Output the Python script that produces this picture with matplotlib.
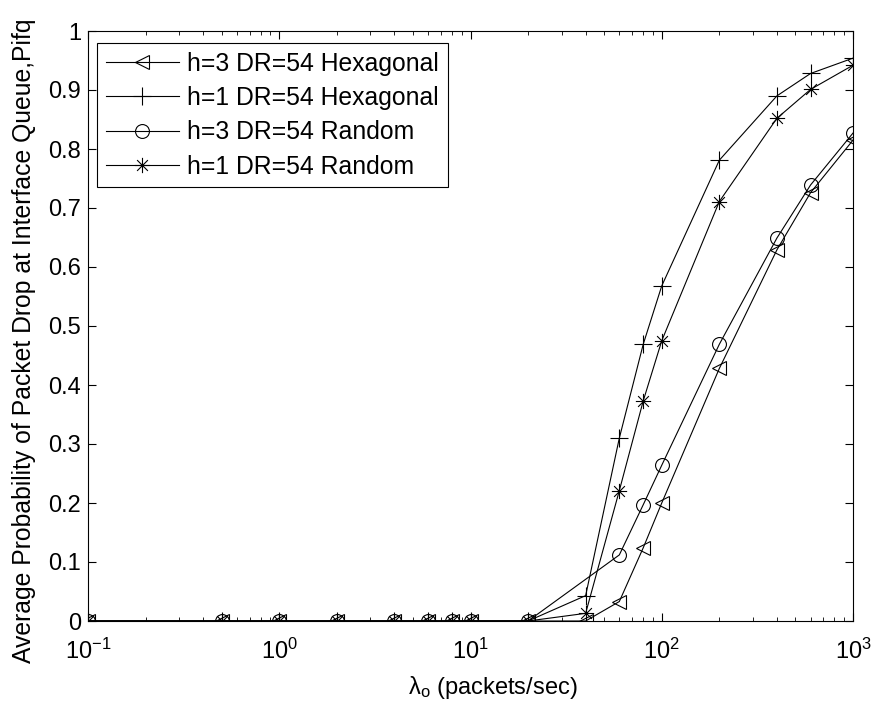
import numpy as np
import matplotlib
matplotlib.use("Agg")
import matplotlib.pyplot as plt
from matplotlib.path import Path
from matplotlib.ticker import LogLocator, NullFormatter

plt.rcParams['font.family'] = ['Liberation Sans', 'DejaVu Sans']
plt.rcParams['mathtext.fontset'] = 'custom'
plt.rcParams['mathtext.rm'] = 'Liberation Sans'
plt.rcParams['mathtext.it'] = 'Liberation Sans'

rates = [0.1, 0.5, 1, 2, 4, 6, 8, 10, 20, 40, 60, 80, 100, 200, 400, 600, 1000]
rates_no40 = [0.1, 0.5, 1, 2, 4, 6, 8, 10, 20, 60, 80, 100, 200, 400, 600, 1000]

h3_hex = [0, 0, 0, 0, 0, 0, 0, 0, 0, 0, 0.033, 0.124, 0.20, 0.428, 0.629, 0.726, 0.815]
h1_hex = [0, 0, 0, 0, 0, 0, 0, 0, 0, 0.043, 0.31, 0.469, 0.568, 0.781, 0.89, 0.928, 0.954]
h3_rand = [0, 0, 0, 0, 0, 0, 0, 0, 0, 0.112, 0.197, 0.264, 0.469, 0.649, 0.739, 0.827]
h1_rand = [0, 0, 0, 0, 0, 0, 0, 0, 0, 0.013, 0.221, 0.373, 0.475, 0.711, 0.852, 0.901, 0.942]

# 8-armed asterisk like MATLAB's '*'
d = 0.7071
star = Path([(-1, 0), (1, 0), (0, -1), (0, 1), (-d, -d), (d, d), (-d, d), (d, -d)],
            [Path.MOVETO, Path.LINETO] * 4)

fs = 17
fs_big = 17.8

fig = plt.figure(figsize=(8.74, 7.04), dpi=100)
ax = fig.add_axes([88/874, 1-621/704, 765/874, 590/704])

kw = dict(color='black', linewidth=0.8, markerfacecolor='none', markeredgewidth=0.8)
ax.plot(rates, h3_hex, marker='<', markersize=10, label='h=3 DR=54 Hexagonal', **kw)
ax.plot(rates, h1_hex, marker='+', markersize=13, label='h=1 DR=54 Hexagonal', **kw)
ax.plot(rates_no40, h3_rand, marker='o', markersize=10, label='h=3 DR=54 Random', **kw)
ax.plot(rates, h1_rand, marker=star, markersize=11, label='h=1 DR=54 Random', **kw)

ax.set_xscale('log')
ax.set_xlim(0.1, 1000)
ax.set_ylim(0, 1)
ax.set_yticks(np.arange(0, 1.01, 0.1))
ax.set_yticklabels(['0', '0.1', '0.2', '0.3', '0.4', '0.5', '0.6', '0.7', '0.8', '0.9', '1'])
ax.xaxis.set_minor_locator(LogLocator(base=10, subs=np.arange(2, 10), numticks=20))
ax.xaxis.set_minor_formatter(NullFormatter())
ax.tick_params(which='both', direction='in', top=True, right=True, labelsize=fs)
ax.tick_params(which='major', length=6)
ax.tick_params(which='minor', length=3)
ax.tick_params(axis='y', pad=5)
ax.tick_params(axis='x', pad=13)
for s in ax.spines.values():
    s.set_linewidth(0.8)

ax.set_xlabel(r'$\mathregular{\lambda_o}$ (packets/sec)', fontsize=fs)
ax.xaxis.set_label_coords(0.529, -0.09)
ax.set_ylabel('Average Probability of Packet Drop at Interface Queue,Pifq', fontsize=fs_big)
ax.yaxis.set_label_coords(-0.068, 0.475)

leg = ax.legend(loc='upper left', bbox_to_anchor=(0.0118, 0.9797), borderaxespad=0,
                fontsize=fs_big, handlelength=2.95, handletextpad=0.35, borderpad=0.35,
                labelspacing=0.42, frameon=True, fancybox=False, edgecolor='black',
                framealpha=1)
leg.get_frame().set_linewidth(0.8)

fig.savefig('out.png', dpi=100)
